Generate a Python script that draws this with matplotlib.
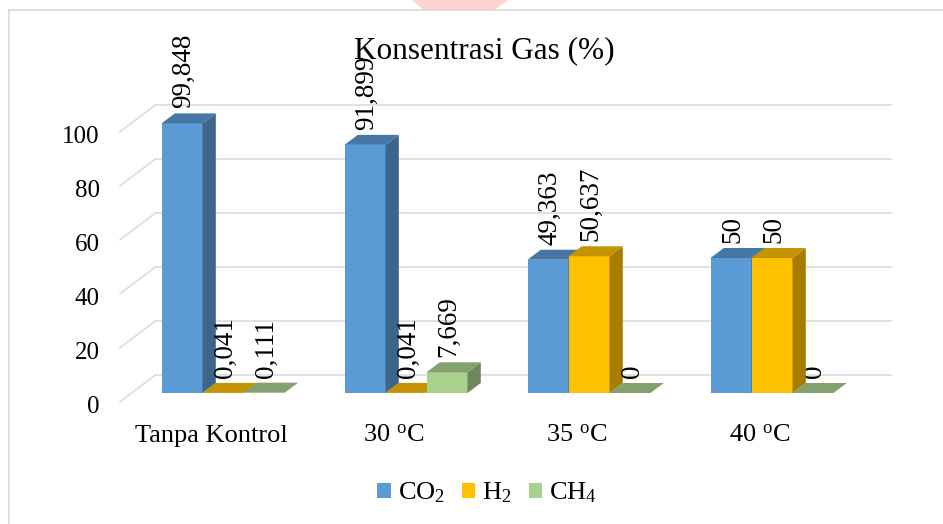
import matplotlib
matplotlib.use("Agg")
import matplotlib.pyplot as plt
from matplotlib.patches import Polygon, Patch
from matplotlib.lines import Line2D
import numpy as np

categories = ["Tanpa Kontrol", r"30 $^{\mathrm{o}}$C", r"35 $^{\mathrm{o}}$C", r"40 $^{\mathrm{o}}$C"]
series_names = [r"CO$_{2}$", r"H$_{2}$", r"CH$_{4}$"]
co2 = [99.848, 91.899, 49.363, 50]
h2 = [0.041, 0.041, 50.637, 50]
ch4 = [0.111, 7.669, 0, 0]
yticks = [0, 20, 40, 60, 80, 100]

colors = ["#5b9bd5", "#ffc000", "#a9d18e"]

plt.rcParams["font.family"] = ["Liberation Serif", "DejaVu Serif"]
plt.rcParams["mathtext.fontset"] = "custom"
plt.rcParams["mathtext.rm"] = "Liberation Serif"
plt.rcParams["mathtext.it"] = "Liberation Serif:italic"

W, H = 943, 524
fig = plt.figure(figsize=(W / 100, H / 100), dpi=100)

# pixels per unit on the bar plane
px_x = 183.0   # one category
px_y = 2.7     # one percent
left_px, base_px = 131.5, H - 393
ax = fig.add_axes([left_px / W, base_px / H, 4 * px_x / W, 100 * px_y / H])
ax.set_xlim(-0.5, 3.5)
ax.set_ylim(0, 100)
ax.set_axis_off()

def dx(p):
    return p / px_x

def dy(p):
    return p / px_y

grid_c = "#d9d9d9"
# back wall / side wall depth offsets (pixels)
wall_back = (23.5, 17.7)
wall_front = (-11.5, -8.7)
x_left = -0.5
x_right = 3.52
for v in yticks:
    ax.plot([x_left + dx(wall_back[0]), x_right + dx(wall_back[0])],
            [v + dy(wall_back[1])] * 2, color=grid_c, lw=1.1, clip_on=False, zorder=1)
    ax.plot([x_left + dx(wall_front[0]), x_left + dx(wall_back[0])],
            [v + dy(wall_front[1]), v + dy(wall_back[1])], color=grid_c, lw=1.1,
            clip_on=False, zorder=1)
    ax.annotate(str(v), xy=(x_left + dx(wall_front[0]), v + dy(wall_front[1])),
                xytext=(-20.5, -11), textcoords="offset pixels", ha="right",
                va="baseline", fontsize=18, annotation_clip=False)

# 3D-looking columns
bw = 41 / px_x
depth = (13.3, 10.0)
ddx, ddy = dx(depth[0]), dy(depth[1])

def shade(c, k):
    rgb = np.array(matplotlib.colors.to_rgb(c))
    return tuple(rgb * k)

z = 2
x = np.arange(len(categories))
for i in range(len(categories)):
    for j, vals in enumerate([co2, h2, ch4]):
        v = vals[i]
        xc = x[i] + (j - 1) * bw
        x0, x1 = xc - bw / 2, xc + bw / 2
        base = colors[j]
        ax.bar(xc, v, width=bw, color=base, edgecolor="none", clip_on=False, zorder=z)
        top = Polygon([(x0, v), (x1, v), (x1 + ddx, v + ddy), (x0 + ddx, v + ddy)],
                      closed=True, facecolor=shade(base, 0.77), edgecolor="none",
                      clip_on=False, zorder=z)
        side = Polygon([(x1, 0), (x1 + ddx, ddy), (x1 + ddx, v + ddy), (x1, v)],
                       closed=True, facecolor=shade(base, 0.65), edgecolor="none",
                       clip_on=False, zorder=z)
        ax.add_patch(side)
        ax.add_patch(top)
        lab = f"{v:g}".replace(".", ",")
        ax.annotate(lab, xy=(xc, v), xytext=(2, 15), textcoords="offset pixels",
                    rotation=90, ha="center", va="bottom", fontsize=19.5,
                    annotation_clip=False, zorder=10)
        z += 1

for i, c in enumerate(categories):
    ax.annotate(c, xy=(x[i], 0), xytext=(-12, -49), textcoords="offset pixels",
                ha="center", va="baseline", fontsize=19, annotation_clip=False)

fig.text(484 / W, 1 - 58 / H, "Konsentrasi Gas (%)", ha="center", va="baseline",
         fontsize=22.5)

handles = [Patch(facecolor=c, edgecolor="none") for c in colors]
fig.legend(handles, series_names, loc="center", bbox_to_anchor=(487 / W, 1 - 493 / H),
           ncol=3, frameon=False, fontsize=19, handlelength=0.52, handleheight=0.52,
           handletextpad=0.25, columnspacing=0.65, borderpad=0)

# chart frame and page mark
fx, fy = 8.5 / W, 1 - 9.5 / H
fig.add_artist(Polygon([(412 / W, 1), (508 / W, 1), (495 / W, fy), (423 / W, fy)],
                       closed=True, transform=fig.transFigure, facecolor="#ffd2d2",
                       edgecolor="none"))
fig.add_artist(Line2D([fx, fx], [0, fy], transform=fig.transFigure, color=grid_c, lw=1.2))
fig.add_artist(Line2D([fx, 1], [fy, fy], transform=fig.transFigure, color=grid_c, lw=1.2))

fig.savefig("out.png", dpi=100)
